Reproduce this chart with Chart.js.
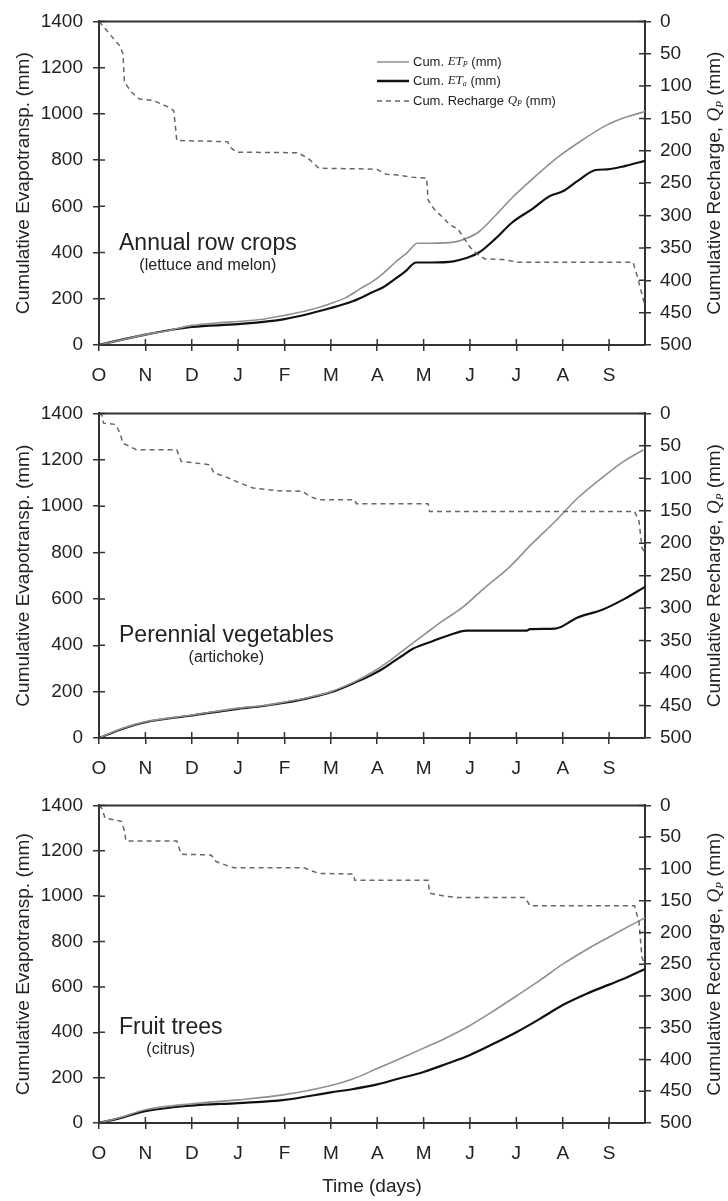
<!DOCTYPE html>
<html>
<head>
<meta charset="utf-8">
<script src="https://cdn.jsdelivr.net/npm/chart.js@4.4.1/dist/chart.umd.min.js"></script>
<style>
  body { margin: 0; background: #fff; }
  #wrap { position: relative; width: 728px; height: 1201px; }
  canvas { position: absolute; left: 0; }
</style>
</head>
<body>
<div id="wrap">
  <canvas id="annual" width="728" height="392" style="top:0px"></canvas>
  <canvas id="perennial" width="728" height="392" style="top:392px"></canvas>
  <canvas id="fruit" width="728" height="417" style="top:784px"></canvas>
</div>
<script>
// month labels, one tick every 31 days
var monthLabels = ['O', 'N', 'D', 'J', 'F', 'M', 'A', 'M', 'J', 'J', 'A', 'S'];

// Annual row crops (lettuce and melon)
var annualEtpDays = [0, 15, 31, 46, 62, 78, 93, 108, 124, 140, 155, 165, 175, 183, 190, 198, 206, 213, 222, 237, 245, 254, 265, 276, 290, 307, 323, 339, 352, 365];
var annualEtp     = [0, 22, 45, 62, 85, 95, 102, 110, 128, 150, 180, 205, 245, 275, 310, 357, 400, 440, 440, 445, 460, 490, 560, 636, 720, 814, 886, 950, 985, 1010];
var annualEtaDays = [0, 31, 62, 93, 124, 155, 170, 183, 190, 198, 205, 212, 222, 237, 245, 254, 265, 276, 290, 301, 310, 320, 332, 340, 352, 365];
var annualEta     = [0, 45, 78, 90, 112, 160, 190, 229, 250, 286, 320, 357, 357, 362, 375, 400, 460, 529, 590, 643, 665, 710, 757, 760, 775, 797];
var annualQpDays  = [0, 3, 8, 14, 16, 17, 22, 27, 36, 46, 50, 52, 70, 86, 88, 92, 133, 140, 147, 178, 186, 192, 198, 210, 219, 220, 224, 229, 235, 240, 244, 248, 253, 258, 270, 280, 357, 360, 365];
var annualQp      = [0, 8, 22, 38, 50, 94, 110, 120, 122, 132, 138, 184, 185, 186, 195, 202, 203, 212, 227, 228, 229, 236, 237, 241, 242, 276, 290, 301, 315, 321, 335, 349, 360, 367, 368, 372, 372, 395, 440];

// Perennial vegetables (artichoke)
var perEtpDays = [0, 15, 31, 62, 93, 110, 124, 140, 155, 170, 181, 193, 206, 218, 230, 243, 258, 274, 289, 305, 320, 336, 350, 364];
var perEtp     = [0, 40, 70, 99, 129, 140, 155, 175, 200, 240, 277, 327, 391, 449, 506, 563, 649, 735, 835, 935, 1035, 1121, 1190, 1243];
var perEtaDays = [0, 15, 31, 62, 93, 110, 124, 140, 155, 170, 181, 190, 196, 203, 209, 221, 233, 246, 286, 288, 305, 320, 336, 351, 365];
var perEta     = [0, 38, 68, 97, 126, 138, 152, 172, 197, 236, 268, 300, 326, 356, 382, 413, 441, 463, 463, 470, 472, 520, 552, 599, 652];
var perQpDays  = [0, 2, 3, 11, 14, 16, 25, 52, 55, 74, 77, 84, 94, 103, 119, 136, 141, 147, 171, 172, 220, 221, 358, 361, 363, 365];
var perQp      = [0, 3, 15, 17, 30, 46, 56, 56, 74, 79, 92, 97, 107, 115, 119, 120, 128, 133, 133, 139, 139, 151, 151, 166, 207, 215];

// Fruit trees (citrus)
var fruitDays = [0, 16, 31, 62, 93, 124, 155, 170, 186, 200, 217, 232, 248, 264, 279, 295, 310, 326, 341, 355, 365];
var fruitEtp  = [0, 28, 58, 85, 102, 125, 165, 195, 240, 280, 330, 375, 430, 495, 560, 630, 700, 765, 820, 870, 905];
var fruitEta  = [0, 25, 52, 77, 88, 102, 135, 150, 170, 195, 225, 260, 300, 350, 400, 460, 520, 570, 610, 648, 679];
var fruitQpDays = [0, 2, 4, 15, 17, 18, 52, 55, 75, 78, 87, 90, 137, 142, 147, 170, 171, 220, 221, 231, 240, 285, 288, 358, 361, 363, 365];
var fruitQp     = [0, 5, 20, 25, 40, 56, 56, 77, 78, 88, 96, 98, 98, 103, 107, 108, 118, 118, 138, 143, 145, 145, 158, 158, 184, 240, 250];

var SANS = "'Liberation Sans', Arial, sans-serif";
var SERIF = "'Liberation Serif', 'Times New Roman', serif";
var AXIS = '#333';
var TEXT = '#222';

function pts(xs, ys) {
  return xs.map(function (x, i) { return { x: x, y: ys[i] }; });
}

// draw a run of text pieces [text, font, dy] starting at x
function drawPieces(ctx, pieces, x, y) {
  pieces.forEach(function (p) {
    ctx.font = p[1];
    ctx.fillText(p[0], x, y + (p[2] || 0));
    x += ctx.measureText(p[0]).width;
  });
}
function piecesWidth(ctx, pieces) {
  var w = 0;
  pieces.forEach(function (p) { ctx.font = p[1]; w += ctx.measureText(p[0]).width; });
  return w;
}

var framePlugin = {
  id: 'frame',
  afterDatasetsDraw: function (chart, args, opts) {
    var ctx = chart.ctx, a = chart.chartArea, s = chart.scales;
    ctx.save();
    ctx.strokeStyle = AXIS;
    ctx.lineWidth = 2;
    ctx.beginPath();
    ctx.moveTo(a.left, a.top); ctx.lineTo(a.right, a.top);
    ctx.stroke();
    ctx.lineWidth = 1.5;
    ctx.beginPath();
    s.x.ticks.forEach(function (t) {
      var px = s.x.getPixelForValue(t.value);
      ctx.moveTo(px, a.bottom); ctx.lineTo(px, a.bottom - 6);
    });
    s.y.ticks.forEach(function (t) {
      var py = s.y.getPixelForValue(t.value);
      ctx.moveTo(a.left, py); ctx.lineTo(a.left + 6, py);
    });
    s.y1.ticks.forEach(function (t) {
      var py = s.y1.getPixelForValue(t.value);
      ctx.moveTo(a.right, py); ctx.lineTo(a.right - 6, py);
    });
    ctx.stroke();

    // panel name
    ctx.fillStyle = TEXT;
    ctx.textBaseline = 'alphabetic';
    ctx.textAlign = 'left';
    ctx.font = '23px ' + SANS;
    var nameW = ctx.measureText(opts.name).width;
    ctx.fillText(opts.name, 119, a.top + 229);
    ctx.font = '16px ' + SANS;
    ctx.textAlign = 'center';
    ctx.fillText(opts.sub, 119 + nameW / 2, a.top + 249);

    // right axis title, reading upwards
    ctx.save();
    ctx.translate(715, (a.top + a.bottom) / 2);
    ctx.rotate(-Math.PI / 2);
    ctx.textAlign = 'left';
    ctx.textBaseline = 'middle';
    var rt = [
      ['Cumulative Recharge, ', '19px ' + SANS],
      ['Q', 'italic 19px ' + SERIF],
      ['P', 'italic 11px ' + SERIF, 5],
      [' (mm)', '19px ' + SANS]
    ];
    drawPieces(ctx, rt, -piecesWidth(ctx, rt) / 2, 0);
    ctx.restore();

    // legend (first panel only)
    if (opts.legend) {
      ctx.textAlign = 'left';
      ctx.textBaseline = 'middle';
      var rows = [
        { y: 62, color: '#8f8f8f', w: 1.5, dash: [], text: [['Cum. ', '13px ' + SANS], ['ET', 'italic 13px ' + SERIF], ['P', 'italic 8px ' + SERIF, 3], [' (mm)', '13px ' + SANS]] },
        { y: 81, color: '#111', w: 2.5, dash: [], text: [['Cum. ', '13px ' + SANS], ['ET', 'italic 13px ' + SERIF], ['a', 'italic 8px ' + SERIF, 3], [' (mm)', '13px ' + SANS]] },
        { y: 101, color: '#666', w: 1.5, dash: [5, 4], text: [['Cum. Recharge ', '13px ' + SANS], ['Q', 'italic 13px ' + SERIF], ['P', 'italic 8px ' + SERIF, 3], [' (mm)', '13px ' + SANS]] }
      ];
      rows.forEach(function (r) {
        ctx.strokeStyle = r.color;
        ctx.lineWidth = r.w;
        ctx.setLineDash(r.dash);
        ctx.beginPath();
        ctx.moveTo(377, r.y); ctx.lineTo(409, r.y);
        ctx.stroke();
        ctx.setLineDash([]);
        ctx.fillStyle = TEXT;
        drawPieces(ctx, r.text, 413, r.y);
      });
    }
    ctx.restore();
  }
};

function plainNumber(v) { return String(v); }

function makePanel(id, info) {
  var ctx = document.getElementById(id).getContext('2d');
  return new Chart(ctx, {
    type: 'line',
    data: {
      datasets: [
        { label: 'Cum. Recharge Qp (mm)', data: pts(info.qpDays, info.qp), yAxisID: 'y1',
          borderColor: '#666', borderWidth: 1.5, borderDash: [5, 4], pointRadius: 0, tension: 0 },
        { label: 'Cum. ETp (mm)', data: pts(info.etpDays, info.etp), yAxisID: 'y',
          borderColor: '#8f8f8f', borderWidth: 1.6, pointRadius: 0, cubicInterpolationMode: 'monotone' },
        { label: 'Cum. ETa (mm)', data: pts(info.etaDays, info.eta), yAxisID: 'y',
          borderColor: '#111', borderWidth: 2.2, pointRadius: 0, cubicInterpolationMode: 'monotone' }
      ]
    },
    options: {
      responsive: false,
      animation: false,
      layout: { padding: { top: info.padTop, left: 0, right: 0, bottom: 0 } },
      plugins: {
        legend: { display: false },
        tooltip: { enabled: false },
        frame: { name: info.name, sub: info.sub, legend: info.legend }
      },
      scales: {
        x: {
          type: 'linear', position: 'bottom', min: 0, max: 365,
          afterBuildTicks: function (s) {
            s.ticks = monthLabels.map(function (m, i) { return { value: i * 31 }; });
          },
          afterFit: function (s) { s.height = info.xHeight; },
          ticks: {
            autoSkip: false, maxRotation: 0, padding: 13, color: TEXT,
            font: { family: SANS, size: 19 },
            callback: function (v, i) { return monthLabels[i]; }
          },
          grid: { drawOnChartArea: false, tickLength: 6, color: AXIS, lineWidth: 1.5 },
          border: { color: AXIS, width: 2 },
          title: {
            display: info.xTitle, text: 'Time (days)', color: TEXT,
            font: { family: SANS, size: 19 }, padding: { top: 0, bottom: 3 }
          }
        },
        y: {
          position: 'left', min: 0, max: 1400,
          afterFit: function (s) { s.width = 99; },
          ticks: { stepSize: 200, padding: 10, color: TEXT, font: { family: SANS, size: 19 }, callback: plainNumber },
          grid: { drawOnChartArea: false, tickLength: 6, color: AXIS, lineWidth: 1.5 },
          border: { color: AXIS, width: 2 },
          title: {
            display: true, text: 'Cumulative Evapotransp. (mm)', color: TEXT,
            font: { family: SANS, size: 19 }, padding: { top: 12, bottom: 0 }
          }
        },
        y1: {
          position: 'right', reverse: true, min: 0, max: 500,
          afterFit: function (s) { s.width = 83; },
          ticks: { stepSize: 50, padding: 9, color: TEXT, font: { family: SANS, size: 19 }, callback: plainNumber },
          grid: { drawOnChartArea: false, tickLength: 6, color: AXIS, lineWidth: 1.5 },
          border: { color: AXIS, width: 2 }
        }
      }
    },
    plugins: [framePlugin]
  });
}

var annualChart = makePanel('annual', {
  name: 'Annual row crops', sub: '(lettuce and melon)', legend: true,
  etpDays: annualEtpDays, etp: annualEtp, etaDays: annualEtaDays, eta: annualEta,
  qpDays: annualQpDays, qp: annualQp,
  padTop: 19, xHeight: 47, xTitle: false
});

var perennialChart = makePanel('perennial', {
  name: 'Perennial vegetables', sub: '(artichoke)', legend: false,
  etpDays: perEtpDays, etp: perEtp, etaDays: perEtaDays, eta: perEta,
  qpDays: perQpDays, qp: perQp,
  padTop: 19, xHeight: 46, xTitle: false
});

var fruitChart = makePanel('fruit', {
  name: 'Fruit trees', sub: '(citrus)', legend: false,
  etpDays: fruitDays, etp: fruitEtp, etaDays: fruitDays, eta: fruitEta,
  qpDays: fruitQpDays, qp: fruitQp,
  padTop: 13, xHeight: 78, xTitle: true
});
</script>
</body>
</html>
